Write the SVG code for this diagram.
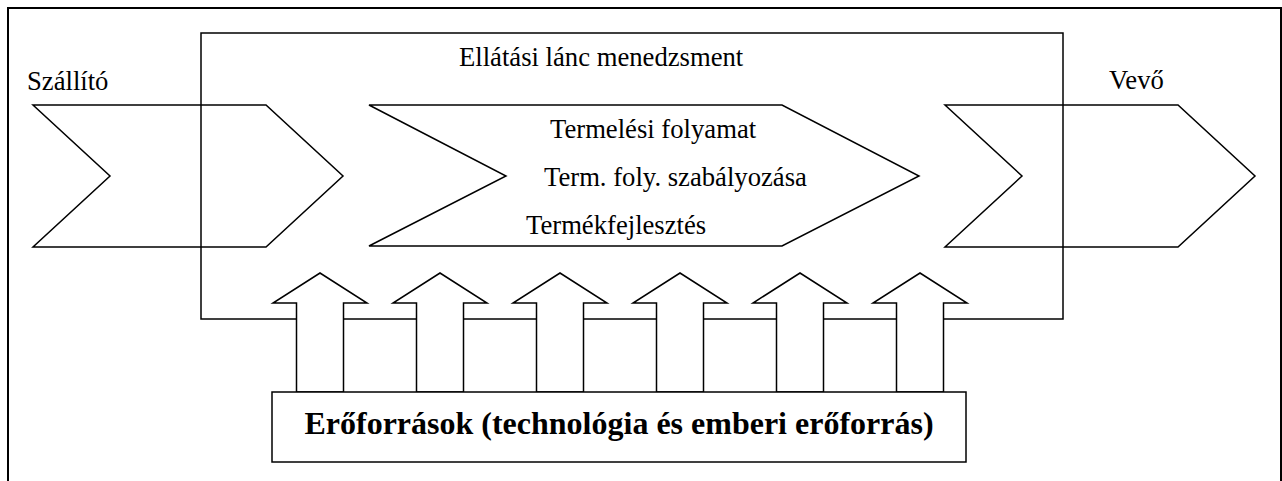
<svg xmlns="http://www.w3.org/2000/svg" width="1282" height="481" viewBox="0 0 1282 481">
<style>
.ln{fill:none;stroke:#000;stroke-width:1.5;stroke-linejoin:miter}
.ar{fill:#fff;stroke:#000;stroke-width:1.5;stroke-linejoin:miter}
.t{font-family:"Liberation Serif","Times New Roman",serif;font-size:26.67px;fill:#000}
.b{font-family:"Liberation Serif","Times New Roman",serif;font-size:32px;font-weight:bold;fill:#000}
</style>
<defs>
<polygon id="uparrow" points="0,273 47,303 23.5,303 23.5,392 -23.5,392 -23.5,303 -47,303"/>
</defs>
<rect x="8" y="8" width="1273" height="480" fill="#fff" stroke="#000" stroke-width="2"/>
<g id="supply-chain-management">
<rect class="ln" x="201" y="33" width="862" height="286"/>
<text class="t" x="459" y="66">Ellátási lánc menedzsment</text>
</g>
<g id="supplier">
<polygon class="ln" points="33,105 266,105 343,176 266,247 33,247 110,176"/>
<text class="t" x="27" y="90">Szállító</text>
</g>
<g id="production">
<polygon class="ln" points="369,105 782,105 919,176 782,246 369,246 506,176"/>
<text class="t" x="550" y="138">Termelési folyamat</text>
<text class="t" x="544" y="186">Term. foly. szabályozása</text>
<text class="t" x="526" y="234">Termékfejlesztés</text>
</g>
<g id="customer">
<polygon class="ln" points="945,105 1178,105 1255,176 1178,247 945,247 1022,176"/>
<text class="t" x="1109" y="89">Vevő</text>
</g>
<g id="connectors">
<use href="#uparrow" class="ar" x="320"/>
<use href="#uparrow" class="ar" x="440"/>
<use href="#uparrow" class="ar" x="560"/>
<use href="#uparrow" class="ar" x="680"/>
<use href="#uparrow" class="ar" x="800"/>
<use href="#uparrow" class="ar" x="920"/>
</g>
<g id="resources">
<rect x="272" y="392" width="694" height="70" fill="#fff" stroke="#000" stroke-width="1.5"/>
<text class="b" x="619" y="434" text-anchor="middle">Erőforrások (technológia és emberi erőforrás)</text>
</g>
</svg>
